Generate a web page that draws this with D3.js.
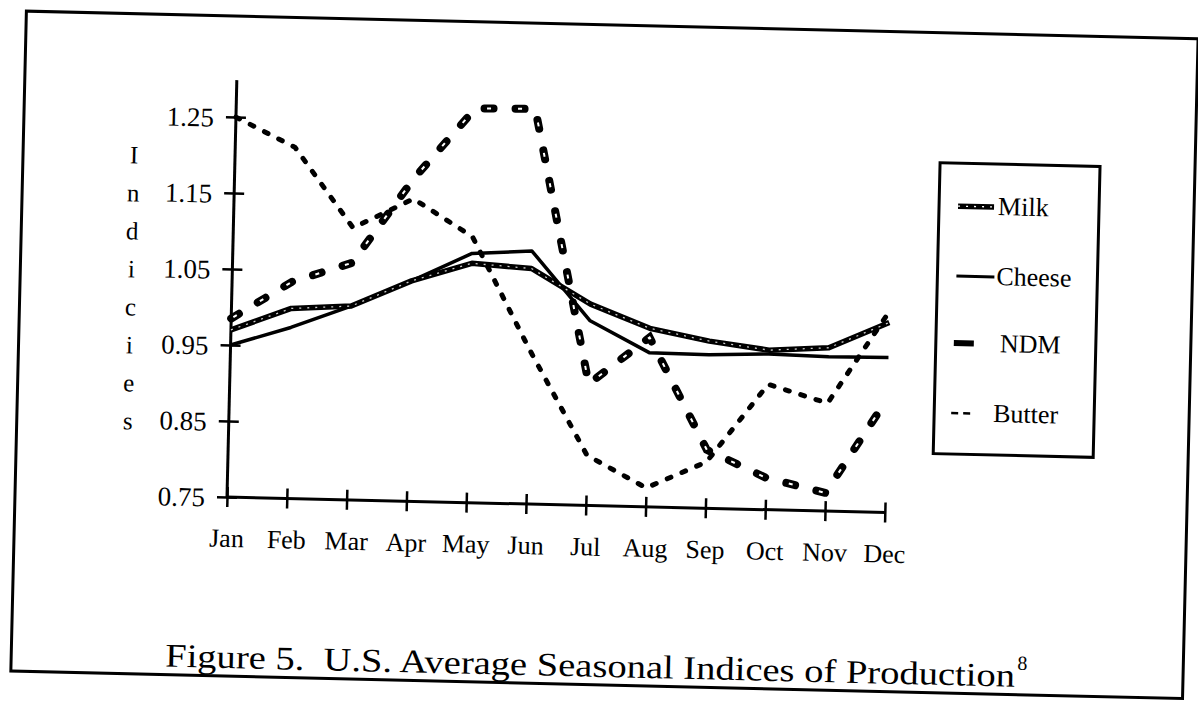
<!DOCTYPE html>
<html>
<head>
<meta charset="utf-8">
<script src="https://cdnjs.cloudflare.com/ajax/libs/d3/7.8.5/d3.min.js"></script>
<style>
  html, body { margin: 0; padding: 0; background: #fff; }
  svg { display: block; }
  svg text { font-family: "Liberation Serif", "Times New Roman", serif; fill: #000; }
</style>
</head>
<body>
<div id="chart"></div>
<script>
// data
const months = ['Jan', 'Feb', 'Mar', 'Apr', 'May', 'Jun', 'Jul', 'Aug', 'Sep', 'Oct', 'Nov', 'Dec'];
const milk   = [0.97, 1.00, 1.005, 1.04, 1.065, 1.06, 1.015, 0.985, 0.97, 0.96, 0.965, 1.00];
const cheese = [0.95, 0.975, 1.005, 1.04, 1.078, 1.083, 0.993, 0.953, 0.952, 0.955, 0.953, 0.954];
const ndm    = [0.985, 1.035, 1.062, 1.175, 1.269, 1.27, 0.91, 0.973, 0.827, 0.792, 0.774, 0.90];
const butter = [1.25, 1.212, 1.108, 1.148, 1.10, 0.953, 0.816, 0.775, 0.811, 0.915, 0.892, 1.015];
const yTicks = [0.75, 0.85, 0.95, 1.05, 1.15, 1.25];
const yLabelLetters = ['I', 'n', 'd', 'i', 'c', 'i', 'e', 's'];
const legendNames = ['Milk', 'Cheese', 'NDM', 'Butter'];

const W = 1198, H = 705;
const serif = '"Liberation Serif", "Times New Roman", serif';

const svg = d3.select('#chart').append('svg')
  .attr('width', W)
  .attr('height', H);

// the scan is slightly skewed, so everything sits in a rotated group
const page = svg.append('g')
  .attr('transform', 'rotate(1.35,227,497)');

// outer frame
page.append('rect')
  .attr('x', 15).attr('y', 16)
  .attr('width', 1172).attr('height', 660)
  .attr('fill', 'none')
  .attr('stroke', '#000')
  .attr('stroke-width', 3);

const xScale = d3.scalePoint().domain(months).range([227, 885]);
const yScale = d3.scaleLinear().domain([0.75, 1.25]).range([497, 117]);

// y axis
const yAxis = page.append('g')
  .attr('transform', 'translate(227,0)')
  .call(d3.axisLeft(yScale).tickValues(yTicks).tickFormat(d3.format('.2f')).tickSize(10));
yAxis.attr('font-family', serif).attr('font-size', 27);
yAxis.select('.domain').remove();
yAxis.selectAll('.tick line')
  .attr('x1', -10).attr('x2', 10)
  .attr('stroke', '#000').attr('stroke-width', 2.5);
yAxis.selectAll('.tick text')
  .attr('x', -22)
  .attr('dy', '0.35em');
page.append('line')
  .attr('x1', 227).attr('x2', 227)
  .attr('y1', 80).attr('y2', 498)
  .attr('stroke', '#000').attr('stroke-width', 3);

// x axis
const xAxis = page.append('g')
  .attr('transform', 'translate(0,497)')
  .call(d3.axisBottom(xScale).tickSize(10));
xAxis.attr('font-family', serif).attr('font-size', 26);
xAxis.select('.domain').remove();
xAxis.selectAll('.tick line')
  .attr('y1', -10).attr('y2', 10)
  .attr('stroke', '#000').attr('stroke-width', 2.5);
xAxis.selectAll('.tick text')
  .attr('y', 50)
  .attr('dy', 0);
page.append('line')
  .attr('x1', 226).attr('x2', 886)
  .attr('y1', 497).attr('y2', 497)
  .attr('stroke', '#000').attr('stroke-width', 3);

// stacked y label
page.append('g').selectAll('text')
  .data(yLabelLetters)
  .enter().append('text')
  .attr('x', 126)
  .attr('y', (d, i) => 157 + i * 38)
  .attr('dy', '0.35em')
  .attr('text-anchor', 'middle')
  .style('font-size', '25px')
  .text(d => d);

const line = d3.line()
  .x((d, i) => xScale(months[i]))
  .y(d => yScale(d));

// butter: small dashes
page.append('path')
  .attr('d', line(butter))
  .attr('fill', 'none')
  .attr('stroke', '#000')
  .attr('stroke-width', 5)
  .attr('stroke-linecap', 'round')
  .attr('stroke-dasharray', '4,12');

// NDM: big dashes with a small light mark inside
page.append('path')
  .attr('d', line(ndm))
  .attr('fill', 'none')
  .attr('stroke', '#000')
  .attr('stroke-width', 8)
  .attr('stroke-linecap', 'round')
  .attr('stroke-dasharray', '9,22');
page.append('path')
  .attr('d', line(ndm))
  .attr('fill', 'none')
  .attr('stroke', '#fff')
  .attr('stroke-width', 2)
  .attr('stroke-dasharray', '4,27')
  .attr('stroke-dashoffset', -2.5);

// cheese: solid
page.append('path')
  .attr('d', line(cheese))
  .attr('fill', 'none')
  .attr('stroke', '#000')
  .attr('stroke-width', 3.5)
  .attr('stroke-linejoin', 'round');

// milk: thick line with speckled centre
page.append('path')
  .attr('d', line(milk))
  .attr('fill', 'none')
  .attr('stroke', '#000')
  .attr('stroke-width', 5.5)
  .attr('stroke-linejoin', 'round');
page.append('path')
  .attr('d', line(milk))
  .attr('fill', 'none')
  .attr('stroke', '#fff')
  .attr('stroke-width', 1.3)
  .attr('stroke-dasharray', '2,6')
  .attr('opacity', 0.8);

// legend
const legend = page.append('g');
legend.append('rect')
  .attr('x', 932).attr('y', 146)
  .attr('width', 160).attr('height', 291)
  .attr('fill', 'none')
  .attr('stroke', '#000')
  .attr('stroke-width', 3);

const rowY = [189, 259, 326, 396];
legend.append('line')
  .attr('x1', 951).attr('x2', 987).attr('y1', rowY[0]).attr('y2', rowY[0])
  .attr('stroke', '#000').attr('stroke-width', 5.5);
legend.append('line')
  .attr('x1', 951).attr('x2', 987).attr('y1', rowY[0]).attr('y2', rowY[0])
  .attr('stroke', '#fff').attr('stroke-width', 1.3).attr('stroke-dasharray', '2,6');
legend.append('line')
  .attr('x1', 951).attr('x2', 989).attr('y1', rowY[1]).attr('y2', rowY[1])
  .attr('stroke', '#000').attr('stroke-width', 3);
legend.append('line')
  .attr('x1', 950).attr('x2', 970).attr('y1', rowY[2]).attr('y2', rowY[2])
  .attr('stroke', '#000').attr('stroke-width', 6);
legend.append('line')
  .attr('x1', 949).attr('x2', 972).attr('y1', rowY[3]).attr('y2', rowY[3])
  .attr('stroke', '#000').attr('stroke-width', 2.5).attr('stroke-dasharray', '7,5');

legend.selectAll('text.lab')
  .data(legendNames)
  .enter().append('text')
  .attr('class', 'lab')
  .attr('x', (d, i) => i === 2 ? 996 : 991)
  .attr('y', (d, i) => rowY[i] + 8)
  .style('font-size', '26px')
  .text(d => d);

// caption
page.append('text')
  .attr('x', 169)
  .attr('y', 668)
  .attr('xml:space', 'preserve')
  .attr('textLength', 850)
  .attr('lengthAdjust', 'spacingAndGlyphs')
  .style('font-size', '33px')
  .text('Figure 5.  U.S. Average Seasonal Indices of Production');
page.append('text')
  .attr('x', 1021)
  .attr('y', 651)
  .style('font-size', '20px')
  .text('8');
</script>
</body>
</html>
